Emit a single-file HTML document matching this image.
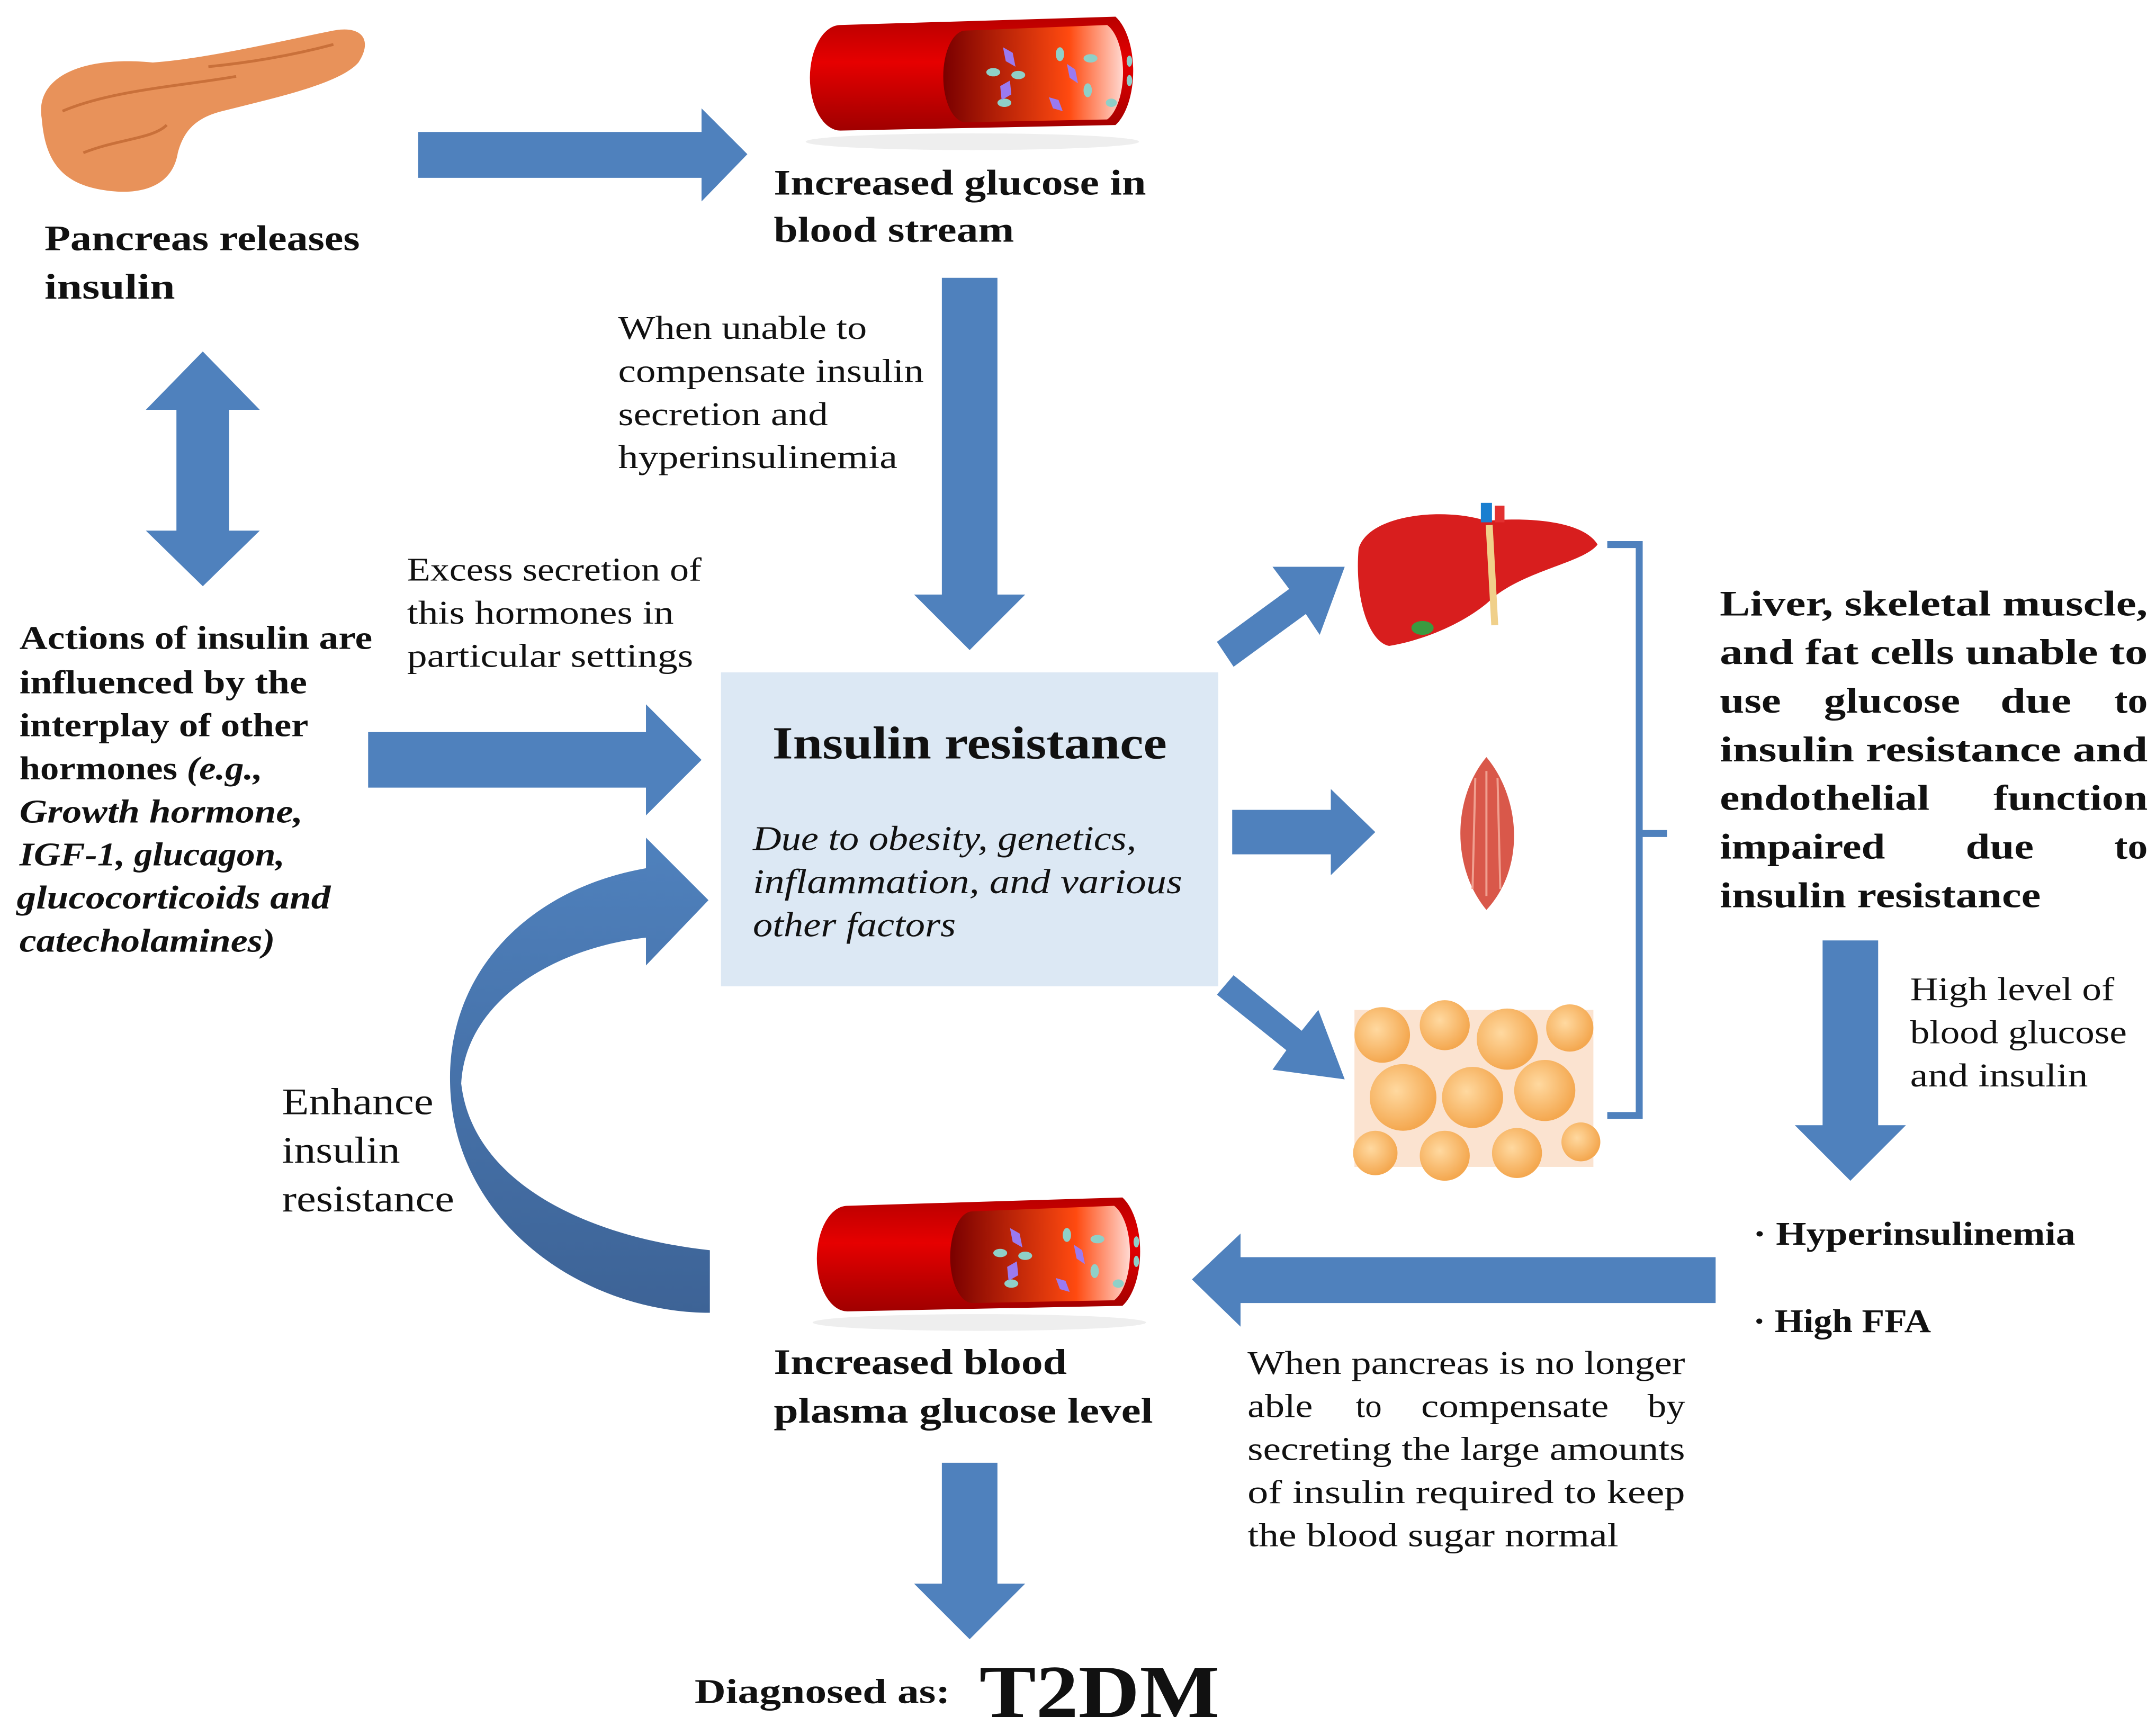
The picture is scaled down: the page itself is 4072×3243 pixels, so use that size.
<!DOCTYPE html>
<html><head><meta charset="utf-8"><style>
html,body{margin:0;padding:0;background:#fff}
svg{display:block}
text{font-family:"Liberation Serif",serif;fill:#111}
</style></head><body>
<svg width="4072" height="3243" viewBox="0 0 1552 1236" preserveAspectRatio="none" xmlns="http://www.w3.org/2000/svg">
<defs>
<linearGradient id="red" x1="0" y1="0" x2="0" y2="1"><stop offset="0" stop-color="#b80000"/><stop offset="0.4" stop-color="#e60000"/><stop offset="1" stop-color="#a00000"/></linearGradient>
<linearGradient id="inner" x1="0" y1="0" x2="1" y2="0"><stop offset="0" stop-color="#7a0000"/><stop offset="0.7" stop-color="#ff4a10"/><stop offset="1" stop-color="#ffd8d0"/></linearGradient>
<linearGradient id="curv" x1="0" y1="0" x2="0" y2="1"><stop offset="0" stop-color="#4f81bd"/><stop offset="1" stop-color="#3d6396"/></linearGradient>
<radialGradient id="fat" cx="0.4" cy="0.4" r="0.6"><stop offset="0" stop-color="#ffd9a0"/><stop offset="1" stop-color="#f4a850"/></radialGradient>
<g id="vessel">
<ellipse cx="125" cy="92" rx="120" ry="6" fill="#eee"/>
<path d="M30 8 L228 2 A22 43 0 0 1 228 80 L30 84 A22 38 0 0 1 30 8 Z" fill="url(#red)"/>
<path d="M120 12 L222 8 A17 36 0 0 1 222 76 L120 78 A16 33 0 0 1 120 12 Z" fill="url(#inner)"/>
<g fill="#8fd0c8"><ellipse cx="140" cy="42" rx="5" ry="3"/><ellipse cx="158" cy="44" rx="5" ry="3"/><ellipse cx="148" cy="64" rx="5" ry="3"/><ellipse cx="188" cy="29" rx="3" ry="5"/><ellipse cx="210" cy="32" rx="5" ry="3"/><ellipse cx="208" cy="55" rx="3" ry="5"/><ellipse cx="225" cy="64" rx="4" ry="3"/><ellipse cx="238" cy="34" rx="2" ry="4"/><ellipse cx="238" cy="48" rx="2" ry="4"/></g>
<g fill="#9a7af0"><path d="M147 24l7 4 2 10-7-4z"/><path d="M145 52l7-4 1 10-7 4z"/><path d="M193 36l6 4 2 10-6-4z"/><path d="M180 60l7 2 3 8-7-2z"/></g>
</g>
</defs>

<path d="M30 85 C25 55 60 40 110 45 C150 42 200 30 240 22 C262 18 268 30 258 45 C245 60 200 70 160 80 C140 85 132 95 128 110 C124 135 100 142 70 136 C40 130 32 110 30 85 Z" fill="#e8925a"/>
<path d="M45 80 C80 65 130 62 170 55 M60 110 C85 100 110 100 120 90 M150 48 C180 45 210 40 240 32" stroke="#c9703a" stroke-width="2" fill="none"/>

<use href="#vessel" transform="translate(575,10)"/>
<use href="#vessel" transform="translate(580,860)"/>

<g fill="#4f81bd">
<path d="M301 95 H505 V78 L538 111 L505 145 V128 H301 Z"/>
<path d="M146 253 L187 295 H165 V382 H187 L146 422 L105 382 H127 V295 H105 Z"/>
<path d="M678 200 H718 V428 H738 L698 468 L658 428 H678 Z"/>
<path d="M265 527 H465 V507 L505 547 L465 587 V567 H265 Z"/>
<path d="M876 462 L928 424 L916 408 L968 408 L950 457 L940 442 L888 480 Z"/>
<path d="M887 583 H958 V568 L990 599 L958 630 V615 H887 Z"/>
<path d="M888 702 L937 742 L949 727 L968 777 L916 770 L926 756 L876 716 Z"/>
<path d="M1312 677 H1352 V810 H1372 L1332 850 L1292 810 H1312 Z"/>
<path d="M1235 905 V938 H893 V955 L858 921 L893 888 V905 Z"/>
<path d="M678 1053 H718 V1140 H738 L698 1180 L658 1140 H678 Z"/>
</g>
<path d="M511 900 C420 890 340 850 332 780 C335 720 400 682 465 675 L465 695 L510 648 L465 603 L465 625 C380 640 322 700 324 780 C326 880 420 945 511 945 Z" fill="url(#curv)"/>

<rect x="519" y="484" width="358" height="226" fill="#dce8f4"/>
<text x="556" y="546" font-weight="bold" font-size="33" textLength="284" lengthAdjust="spacingAndGlyphs">Insulin resistance</text>
<g font-size="25" font-style="italic">
<text x="542" y="612" textLength="276" lengthAdjust="spacingAndGlyphs">Due to obesity, genetics,</text>
<text x="542" y="643" textLength="309" lengthAdjust="spacingAndGlyphs">inflammation, and various</text>
<text x="542" y="674" textLength="146" lengthAdjust="spacingAndGlyphs">other factors</text></g>

<path d="M978 395 C985 370 1040 365 1070 375 C1100 372 1140 375 1150 392 C1140 405 1100 410 1075 430 C1060 445 1030 460 1000 465 C985 462 975 430 978 395 Z" fill="#d81e1e"/>
<rect x="1066" y="362" width="8" height="14" fill="#1a7fd0"/><rect x="1076" y="364" width="7" height="12" fill="#e23030"/>
<path d="M1072 378 L1076 450" stroke="#f0d08a" stroke-width="5"/>
<ellipse cx="1024" cy="452" rx="8" ry="5" fill="#3a9a40"/>
<path d="M1070 545 C1095 575 1098 625 1070 655 C1045 625 1045 575 1070 545 Z" fill="#d9584a"/>
<path d="M1062 560 L1060 640 M1070 555 L1070 645 M1078 560 L1080 640" stroke="#f0a090" stroke-width="1.5"/>
<rect x="975" y="727" width="172" height="113" fill="#fbe3d0"/>
<g fill="url(#fat)"><circle cx="995" cy="745" r="20"/><circle cx="1040" cy="738" r="18"/><circle cx="1085" cy="748" r="22"/><circle cx="1130" cy="740" r="17"/><circle cx="1010" cy="790" r="24"/><circle cx="1060" cy="790" r="22"/><circle cx="1112" cy="785" r="22"/><circle cx="990" cy="830" r="16"/><circle cx="1040" cy="832" r="18"/><circle cx="1092" cy="830" r="18"/><circle cx="1138" cy="822" r="14"/></g>

<path d="M1157 392 H1180 V600 H1200 M1180 600 V803 H1157" stroke="#4f81bd" stroke-width="5" fill="none"/>

<g font-size="26" font-weight="bold">
<text x="557" y="140" textLength="268" lengthAdjust="spacingAndGlyphs">Increased glucose in</text>
<text x="557" y="174" textLength="173" lengthAdjust="spacingAndGlyphs">blood stream</text>
<text x="32" y="180" textLength="227" lengthAdjust="spacingAndGlyphs">Pancreas releases</text>
<text x="32" y="215" textLength="94" lengthAdjust="spacingAndGlyphs">insulin</text>
<text x="557" y="989" textLength="211" lengthAdjust="spacingAndGlyphs">Increased blood</text>
<text x="557" y="1024" textLength="273" lengthAdjust="spacingAndGlyphs">plasma glucose level</text>
</g>
<g font-size="24">
<text x="445" y="244" textLength="179" lengthAdjust="spacingAndGlyphs">When unable to</text>
<text x="445" y="275" textLength="220" lengthAdjust="spacingAndGlyphs">compensate insulin</text>
<text x="445" y="306" textLength="151" lengthAdjust="spacingAndGlyphs">secretion and</text>
<text x="445" y="337" textLength="201" lengthAdjust="spacingAndGlyphs">hyperinsulinemia</text>
<text x="293" y="418" textLength="212" lengthAdjust="spacingAndGlyphs">Excess secretion of</text>
<text x="293" y="449" textLength="192" lengthAdjust="spacingAndGlyphs">this hormones in</text>
<text x="293" y="480" textLength="206" lengthAdjust="spacingAndGlyphs">particular settings</text>
<text x="1375" y="720" textLength="147" lengthAdjust="spacingAndGlyphs">High level of</text>
<text x="1375" y="751" textLength="156" lengthAdjust="spacingAndGlyphs">blood glucose</text>
<text x="1375" y="782" textLength="128" lengthAdjust="spacingAndGlyphs">and insulin</text>
<text x="898" y="989" textLength="315" lengthAdjust="spacingAndGlyphs">When pancreas is no longer</text>
<text x="898" y="1020" textLength="47" lengthAdjust="spacingAndGlyphs">able</text>
<text x="976" y="1020">to</text>
<text x="1023" y="1020" textLength="135" lengthAdjust="spacingAndGlyphs">compensate</text>
<text x="1186" y="1020" textLength="27" lengthAdjust="spacingAndGlyphs">by</text>
<text x="898" y="1051" textLength="315" lengthAdjust="spacingAndGlyphs">secreting the large amounts</text>
<text x="898" y="1082" textLength="315" lengthAdjust="spacingAndGlyphs">of insulin required to keep</text>
<text x="898" y="1113" textLength="267" lengthAdjust="spacingAndGlyphs">the blood sugar normal</text>
</g>
<g font-size="27">
<text x="203" y="802" textLength="109" lengthAdjust="spacingAndGlyphs">Enhance</text>
<text x="203" y="837" textLength="85" lengthAdjust="spacingAndGlyphs">insulin</text>
<text x="203" y="872" textLength="124" lengthAdjust="spacingAndGlyphs">resistance</text></g>
<g font-size="24" font-weight="bold">
<text x="14" y="467" textLength="254" lengthAdjust="spacingAndGlyphs">Actions of insulin are</text>
<text x="14" y="499" textLength="207" lengthAdjust="spacingAndGlyphs">influenced by the</text>
<text x="14" y="530" textLength="208" lengthAdjust="spacingAndGlyphs">interplay of other</text>
<text x="14" y="561" textLength="175" lengthAdjust="spacingAndGlyphs">hormones <tspan font-style="italic">(e.g.,</tspan></text>
<g font-style="italic">
<text x="14" y="592" textLength="204" lengthAdjust="spacingAndGlyphs">Growth hormone,</text>
<text x="14" y="623" textLength="191" lengthAdjust="spacingAndGlyphs">IGF-1, glucagon,</text>
<text x="12" y="654" textLength="226" lengthAdjust="spacingAndGlyphs">glucocorticoids and</text>
<text x="14" y="685" textLength="184" lengthAdjust="spacingAndGlyphs">catecholamines)</text></g>
</g>
<g font-size="26" font-weight="bold">
<text x="1238" y="443" textLength="308" lengthAdjust="spacingAndGlyphs">Liver, skeletal muscle,</text>
<text x="1238" y="478" textLength="308" lengthAdjust="spacingAndGlyphs">and fat cells unable to</text>
<text x="1238" y="513" textLength="44" lengthAdjust="spacingAndGlyphs">use</text>
<text x="1313" y="513" textLength="98" lengthAdjust="spacingAndGlyphs">glucose</text>
<text x="1440" y="513" textLength="51" lengthAdjust="spacingAndGlyphs">due</text>
<text x="1522" y="513" textLength="24" lengthAdjust="spacingAndGlyphs">to</text>
<text x="1238" y="548" textLength="308" lengthAdjust="spacingAndGlyphs">insulin resistance and</text>
<text x="1238" y="583" textLength="151" lengthAdjust="spacingAndGlyphs">endothelial</text>
<text x="1435" y="583" textLength="111" lengthAdjust="spacingAndGlyphs">function</text>
<text x="1238" y="618" textLength="119" lengthAdjust="spacingAndGlyphs">impaired</text>
<text x="1415" y="618" textLength="49" lengthAdjust="spacingAndGlyphs">due</text>
<text x="1522" y="618" textLength="24" lengthAdjust="spacingAndGlyphs">to</text>
<text x="1238" y="653" textLength="231" lengthAdjust="spacingAndGlyphs">insulin resistance</text>
</g>
<g font-size="24" font-weight="bold">
<text x="1262" y="896" textLength="232" lengthAdjust="spacingAndGlyphs">· Hyperinsulinemia</text>
<text x="1262" y="959" textLength="128" lengthAdjust="spacingAndGlyphs">· High FFA</text></g>
<text x="500" y="1226" font-size="25" font-weight="bold" textLength="184" lengthAdjust="spacingAndGlyphs">Diagnosed as:</text>
<text x="705" y="1236" font-size="54" font-weight="bold" textLength="173" lengthAdjust="spacingAndGlyphs">T2DM</text>
</svg>
</body></html>
